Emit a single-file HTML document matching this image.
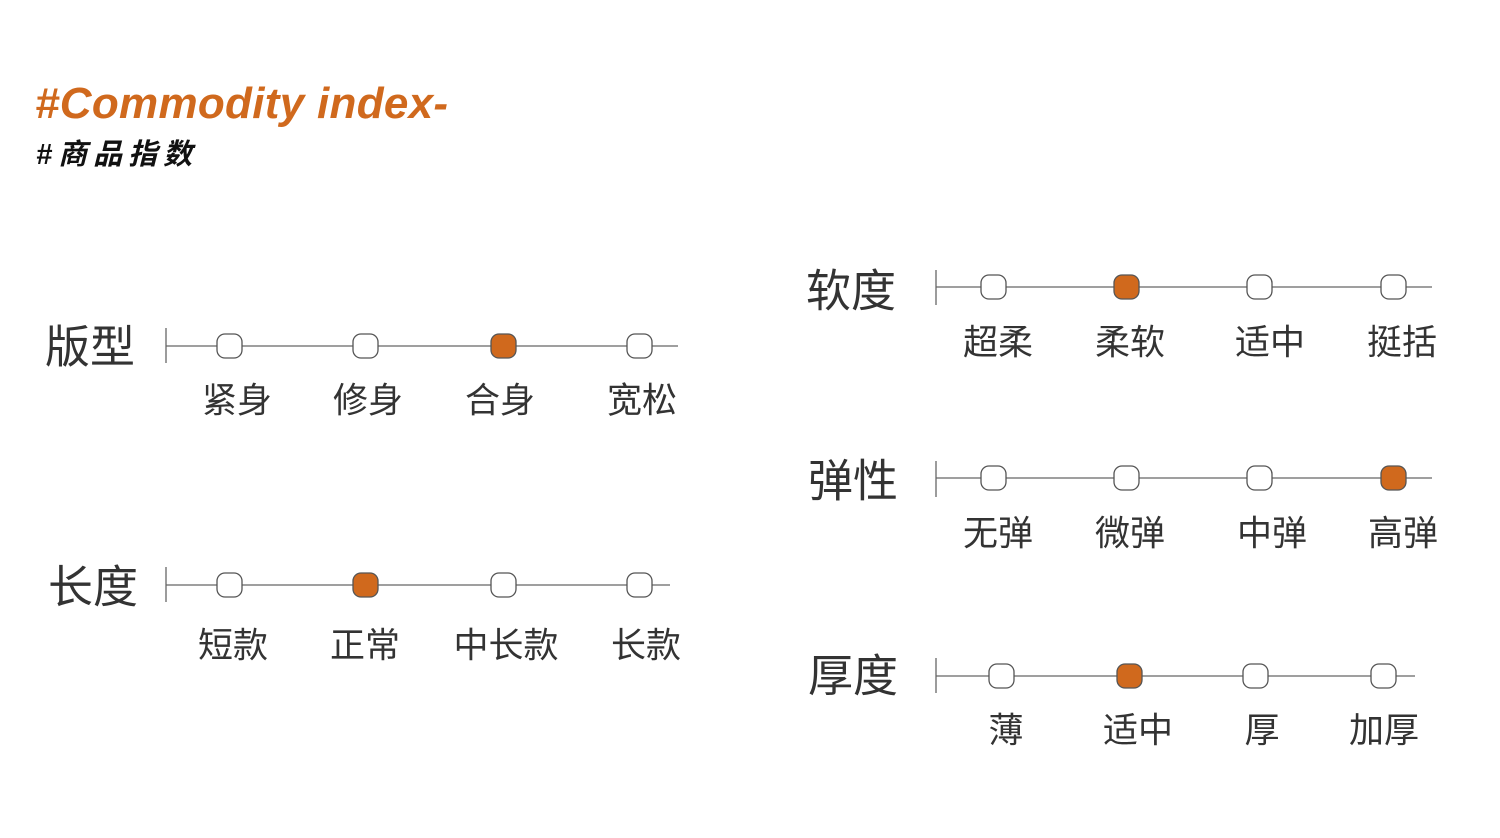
<!DOCTYPE html>
<html><head><meta charset="utf-8"><style>
body{margin:0;width:1500px;height:838px;background:#fff;position:relative;overflow:hidden;font-family:"Liberation Sans","Noto Sans CJK SC",sans-serif;color:#333}
.t{position:absolute;white-space:nowrap;transform:translate(-50%,-50%);line-height:1}
.b{font-size:45px}
.s{font-size:35px}
</style></head><body>
<div style="position:absolute;left:35px;top:79px;font:italic bold 44px 'Liberation Sans',sans-serif;color:#d0691d;letter-spacing:0.3px">#Commodity index-</div>
<div style="position:absolute;left:36px;top:131px;font:italic bold 29px 'Liberation Sans','Noto Sans CJK SC',sans-serif;color:#111;letter-spacing:6px">#商品指数</div>
<svg width="1500" height="838" style="position:absolute;left:0;top:0">
<g stroke="#666" stroke-width="1.3" fill="none">
<line x1="166" y1="328" x2="166" y2="363"/><line x1="166" y1="346" x2="678" y2="346"/>
<line x1="166" y1="567" x2="166" y2="602"/><line x1="166" y1="585" x2="670" y2="585"/>
<line x1="936" y1="270" x2="936" y2="305"/><line x1="936" y1="287" x2="1432" y2="287"/>
<line x1="936" y1="461" x2="936" y2="497"/><line x1="936" y1="478" x2="1432" y2="478"/>
<line x1="936" y1="658" x2="936" y2="693"/><line x1="936" y1="676" x2="1415" y2="676"/>
</g>
<g stroke="#555" stroke-width="1.3" fill="#fff">
<rect x="217" y="334" width="25" height="24" rx="8"/><rect x="353" y="334" width="25" height="24" rx="8"/><rect x="491" y="334" width="25" height="24" rx="8" fill="#d0691d"/><rect x="627" y="334" width="25" height="24" rx="8"/>
<rect x="217" y="573" width="25" height="24" rx="8"/><rect x="353" y="573" width="25" height="24" rx="8" fill="#d0691d"/><rect x="491" y="573" width="25" height="24" rx="8"/><rect x="627" y="573" width="25" height="24" rx="8"/>
<rect x="981" y="275" width="25" height="24" rx="8"/><rect x="1114" y="275" width="25" height="24" rx="8" fill="#d0691d"/><rect x="1247" y="275" width="25" height="24" rx="8"/><rect x="1381" y="275" width="25" height="24" rx="8"/>
<rect x="981" y="466" width="25" height="24" rx="8"/><rect x="1114" y="466" width="25" height="24" rx="8"/><rect x="1247" y="466" width="25" height="24" rx="8"/><rect x="1381" y="466" width="25" height="24" rx="8" fill="#d0691d"/>
<rect x="989" y="664" width="25" height="24" rx="8"/><rect x="1117" y="664" width="25" height="24" rx="8" fill="#d0691d"/><rect x="1243" y="664" width="25" height="24" rx="8"/><rect x="1371" y="664" width="25" height="24" rx="8"/>
</g></svg>
<div class="t b" style="left:90px;top:347px">版型</div>
<div class="t b" style="left:93px;top:587px">长度</div>
<div class="t b" style="left:851px;top:291px">软度</div>
<div class="t b" style="left:853px;top:481px">弹性</div>
<div class="t b" style="left:853px;top:676px">厚度</div>
<div class="t s" style="left:237px;top:401px">紧身</div><div class="t s" style="left:368px;top:401px">修身</div><div class="t s" style="left:500px;top:401px">合身</div><div class="t s" style="left:642px;top:401px">宽松</div>
<div class="t s" style="left:233px;top:646px">短款</div><div class="t s" style="left:365px;top:646px">正常</div><div class="t s" style="left:506px;top:646px">中长款</div><div class="t s" style="left:646px;top:646px">长款</div>
<div class="t s" style="left:998px;top:343px">超柔</div><div class="t s" style="left:1130px;top:343px">柔软</div><div class="t s" style="left:1270px;top:343px">适中</div><div class="t s" style="left:1402px;top:343px">挺括</div>
<div class="t s" style="left:998px;top:534px">无弹</div><div class="t s" style="left:1130px;top:534px">微弹</div><div class="t s" style="left:1272px;top:534px">中弹</div><div class="t s" style="left:1403px;top:534px">高弹</div>
<div class="t s" style="left:1006px;top:731px">薄</div><div class="t s" style="left:1138px;top:731px">适中</div><div class="t s" style="left:1262px;top:731px">厚</div><div class="t s" style="left:1384px;top:731px">加厚</div>
</body></html>
